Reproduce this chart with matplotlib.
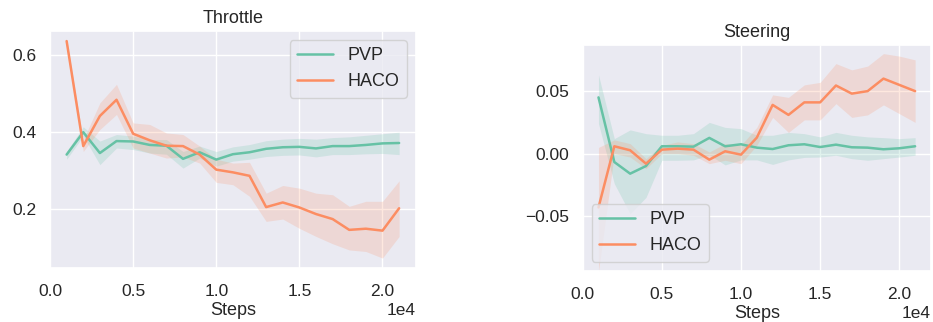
import matplotlib
matplotlib.use("Agg")
import matplotlib.pyplot as plt
import seaborn as sns
import numpy as np

sns.set_theme(style="darkgrid")
plt.rcParams['font.family'] = ['Liberation Sans', 'DejaVu Sans']

steps = np.arange(1, 22) * 1000

# Throttle
pvp_thr = [0.342, 0.400, 0.346, 0.377, 0.376, 0.367, 0.365, 0.331, 0.348, 0.329, 0.343,
           0.348, 0.357, 0.361, 0.362, 0.358, 0.364, 0.364, 0.367, 0.371, 0.372]
pvp_thr_lo = [0.330, 0.390, 0.316, 0.359, 0.355, 0.346, 0.343, 0.307, 0.333, 0.312, 0.325,
              0.330, 0.337, 0.340, 0.341, 0.336, 0.342, 0.342, 0.344, 0.345, 0.342]
pvp_thr_hi = [0.350, 0.414, 0.377, 0.394, 0.390, 0.381, 0.381, 0.350, 0.364, 0.350, 0.362,
              0.368, 0.378, 0.382, 0.384, 0.382, 0.386, 0.388, 0.392, 0.396, 0.400]
haco_thr = [0.636, 0.364, 0.442, 0.484, 0.396, 0.379, 0.365, 0.364, 0.342, 0.303, 0.296,
            0.287, 0.206, 0.218, 0.205, 0.188, 0.175, 0.147, 0.150, 0.145, 0.203]
haco_thr_lo = [0.630, 0.350, 0.407, 0.446, 0.359, 0.346, 0.333, 0.336, 0.320, 0.270, 0.264,
               0.234, 0.169, 0.175, 0.151, 0.130, 0.111, 0.095, 0.091, 0.074, 0.130]
haco_thr_hi = [0.640, 0.380, 0.476, 0.524, 0.424, 0.420, 0.398, 0.394, 0.364, 0.330, 0.320,
               0.322, 0.242, 0.262, 0.255, 0.242, 0.238, 0.208, 0.221, 0.221, 0.274]

# Steering
pvp_str = [0.045, -0.0067, -0.016, -0.0099, 0.0059, 0.0059, 0.0056, 0.0126, 0.0059, 0.0075, 0.0048,
           0.0037, 0.0067, 0.0075, 0.0053, 0.0072, 0.0051, 0.0048, 0.0035, 0.0043, 0.0059]
pvp_str_lo = [0.024, -0.024, -0.048, -0.035, -0.0053, -0.0053, -0.005, -0.001, -0.009, -0.005, -0.005,
              -0.0086, -0.005, -0.003, -0.0027, -0.0013, -0.004, -0.0053, -0.004, -0.0027, -0.0013]
pvp_str_hi = [0.063, 0.012, 0.019, 0.016, 0.0147, 0.0147, 0.016, 0.025, 0.021, 0.020, 0.0147,
              0.0147, 0.017, 0.016, 0.0134, 0.017, 0.0147, 0.0134, 0.0128, 0.012, 0.0128]
haco_str = [-0.043, 0.0059, 0.0027, -0.008, 0.0032, 0.004, 0.0032, -0.0048, 0.0019, -0.0008, 0.0128,
            0.039, 0.031, 0.041, 0.041, 0.0545, 0.048, 0.050, 0.060, 0.055, 0.050]
haco_str_lo = [-0.094, 0.0, -0.0027, -0.012, -0.0, -0.0, -0.0013, -0.008, -0.0053, -0.008, 0.0067,
               0.029, 0.017, 0.027, 0.027, 0.040, 0.029, 0.031, 0.039, 0.032, 0.025]
haco_str_hi = [0.005, 0.011, 0.008, -0.004, 0.0067, 0.0094, 0.008, 0.0013, 0.008, 0.0067, 0.021,
               0.047, 0.045, 0.055, 0.057, 0.072, 0.067, 0.070, 0.080, 0.078, 0.075]

c_pvp = "#66c2a5"
c_haco = "#fc8d62"

fig = plt.figure(figsize=(9.33, 3.22), dpi=100)
ax1 = fig.add_axes([0.0536, 0.1686, 0.392, 0.735])
ax2 = fig.add_axes([0.6245, 0.1593, 0.3733, 0.701])

def panel(ax, pv, pv_lo, pv_hi, ha, ha_lo, ha_hi, title, loc):
    ax.plot(steps, pv, color=c_pvp, lw=1.8, label="PVP")
    ax.fill_between(steps, pv_lo, pv_hi, color=c_pvp, alpha=0.2, lw=0)
    ax.plot(steps, ha, color=c_haco, lw=1.8, label="HACO")
    ax.fill_between(steps, ha_lo, ha_hi, color=c_haco, alpha=0.2, lw=0)
    ax.set_title(title, fontsize=13)
    ax.set_xlabel("Steps", fontsize=13, labelpad=2.5)
    ax.ticklabel_format(axis="x", style="sci", scilimits=(0, 0))
    ax.xaxis.get_offset_text().set_fontsize(12.5)
    ax.tick_params(labelsize=12.5)
    ax.tick_params(axis="x", pad=5.5)
    ax.set_xlim(0, 22000)
    ax.legend(loc=loc, fontsize=13)

panel(ax1, pvp_thr, pvp_thr_lo, pvp_thr_hi, haco_thr, haco_thr_lo, haco_thr_hi, "Throttle", "upper right")
ax1.set_ylim(0.049, 0.662)
ax1.set_yticks([0.2, 0.4, 0.6])
panel(ax2, pvp_str, pvp_str_lo, pvp_str_hi, haco_str, haco_str_lo, haco_str_hi, "Steering", "lower left")
ax2.set_ylim(-0.0936, 0.0869)
ax2.set_yticks([-0.05, 0.0, 0.05])

fig.savefig("out.png", dpi=100)
